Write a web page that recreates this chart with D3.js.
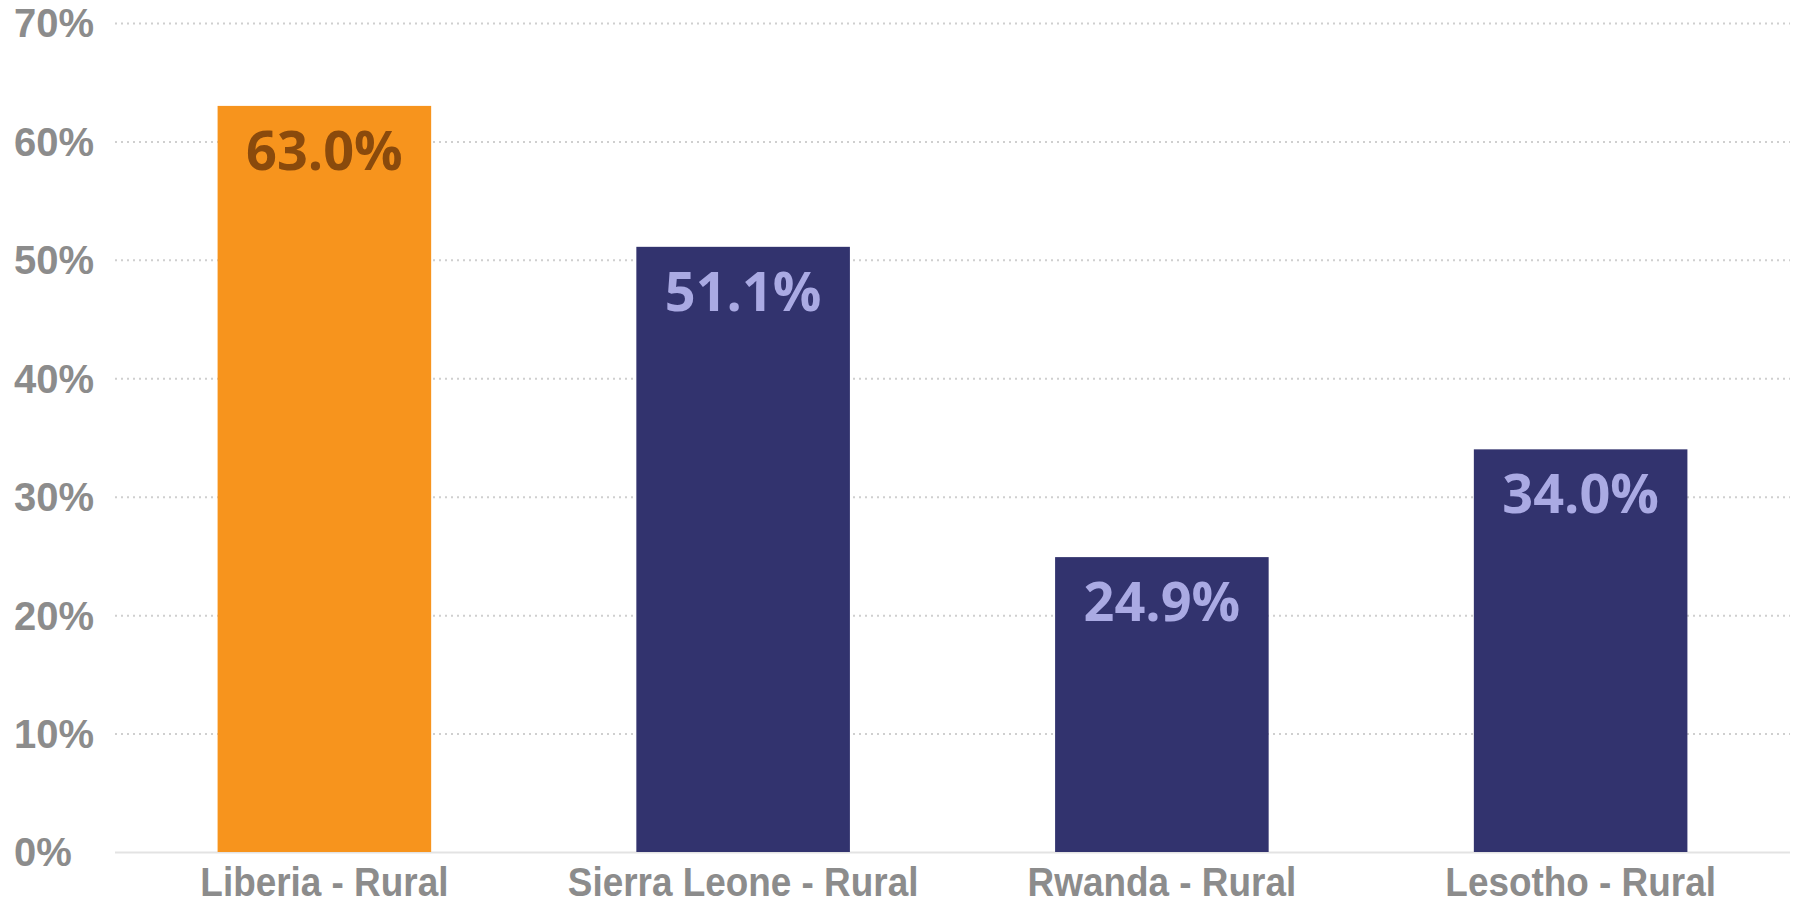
<!DOCTYPE html>
<html>
<head>
<meta charset="utf-8">
<script src="https://cdn.jsdelivr.net/npm/d3@7"></script>
<style>
  body { margin: 0; background: #fff; }
  svg { display: block; }
</style>
</head>
<body>
<div id="container"></div>
<script>
// DATA
const categories = ["Liberia - Rural", "Sierra Leone - Rural", "Rwanda - Rural", "Lesotho - Rural"];
const values = [63.0, 51.1, 24.9, 34.0];
const highlight = ["Liberia - Rural"];
const yTicks = [0, 10, 20, 30, 40, 50, 60, 70];

const w = 1805, h = 904;
const margin = {top: 23, right: 15, bottom: 52, left: 115};

const chart = d3.select('#container')
                .append('svg')
                .attr('width', w)
                .attr('height', h);

// SCALES
const x = d3.scaleBand()
            .domain(categories)
            .range([margin.left, w - margin.right])
            .paddingInner(0.49)
            .paddingOuter(0.245);

const y = d3.scaleLinear()
            .domain([0, 70])
            .range([h - margin.bottom, margin.top]);

// GRIDLINES - dotted, baseline solid
const grid = d3.axisLeft(y)
               .tickValues(yTicks)
               .tickSize(-(w - margin.left - margin.right))
               .tickFormat('');

chart.append('g')
     .attr('transform', `translate(${margin.left},0)`)
     .call(grid)
     .call(g => g.select('.domain').remove())
     .call(g => g.selectAll('.tick line')
                 .attr('stroke', d => d === 0 ? '#e3e3e3' : '#cfcfcf')
                 .attr('stroke-width', 2)
                 .attr('stroke-dasharray', d => d === 0 ? null : '2,4'));

// Y LABELS - left aligned
chart.append('g')
     .selectAll('text')
     .data(yTicks).enter()
     .append('text')
     .attr('x', 14)
     .attr('y', d => y(d))
     .attr('dy', '0.36em')
     .attr('fill', '#8c8c8c')
     .style('font-family', 'Liberation Sans, Arial, sans-serif')
     .style('font-weight', 'bold')
     .style('font-size', '40px')
     .text(d => d + '%');

// BARS
chart.selectAll('rect.bar')
     .data(categories).enter()
     .append('rect')
     .attr('class', 'bar')
     .attr('x', d => x(d))
     .attr('width', x.bandwidth())
     .attr('y', (d, i) => y(values[i]))
     .attr('height', (d, i) => y(0) - y(values[i]))
     .attr('fill', d => highlight.includes(d) ? '#f7941d' : '#32336e');

// VALUE LABELS
chart.selectAll('text.val')
     .data(categories).enter()
     .append('text')
     .attr('class', 'val')
     .attr('x', d => x(d) + x.bandwidth() / 2)
     .attr('y', (d, i) => y(values[i]) + 64)
     .attr('text-anchor', 'middle')
     .attr('fill', d => highlight.includes(d) ? '#8a4a0c' : '#aaaae3')
     .style('font-family', 'Open Sans, sans-serif')
     .style('font-weight', 'bold')
     .style('font-size', '54px')
     .text((d, i) => values[i].toFixed(1) + '%');

// X LABELS - a bit condensed like the original
chart.selectAll('text.cat')
     .data(categories).enter()
     .append('text')
     .attr('class', 'cat')
     .attr('transform', d => `translate(${x(d) + x.bandwidth() / 2},${h - 8}) scale(0.9,1)`)
     .attr('text-anchor', 'middle')
     .attr('fill', '#8c8c8c')
     .style('font-family', 'Liberation Sans, Arial, sans-serif')
     .style('font-weight', 'bold')
     .style('font-size', '41px')
     .text(d => d);
</script>
</body>
</html>
